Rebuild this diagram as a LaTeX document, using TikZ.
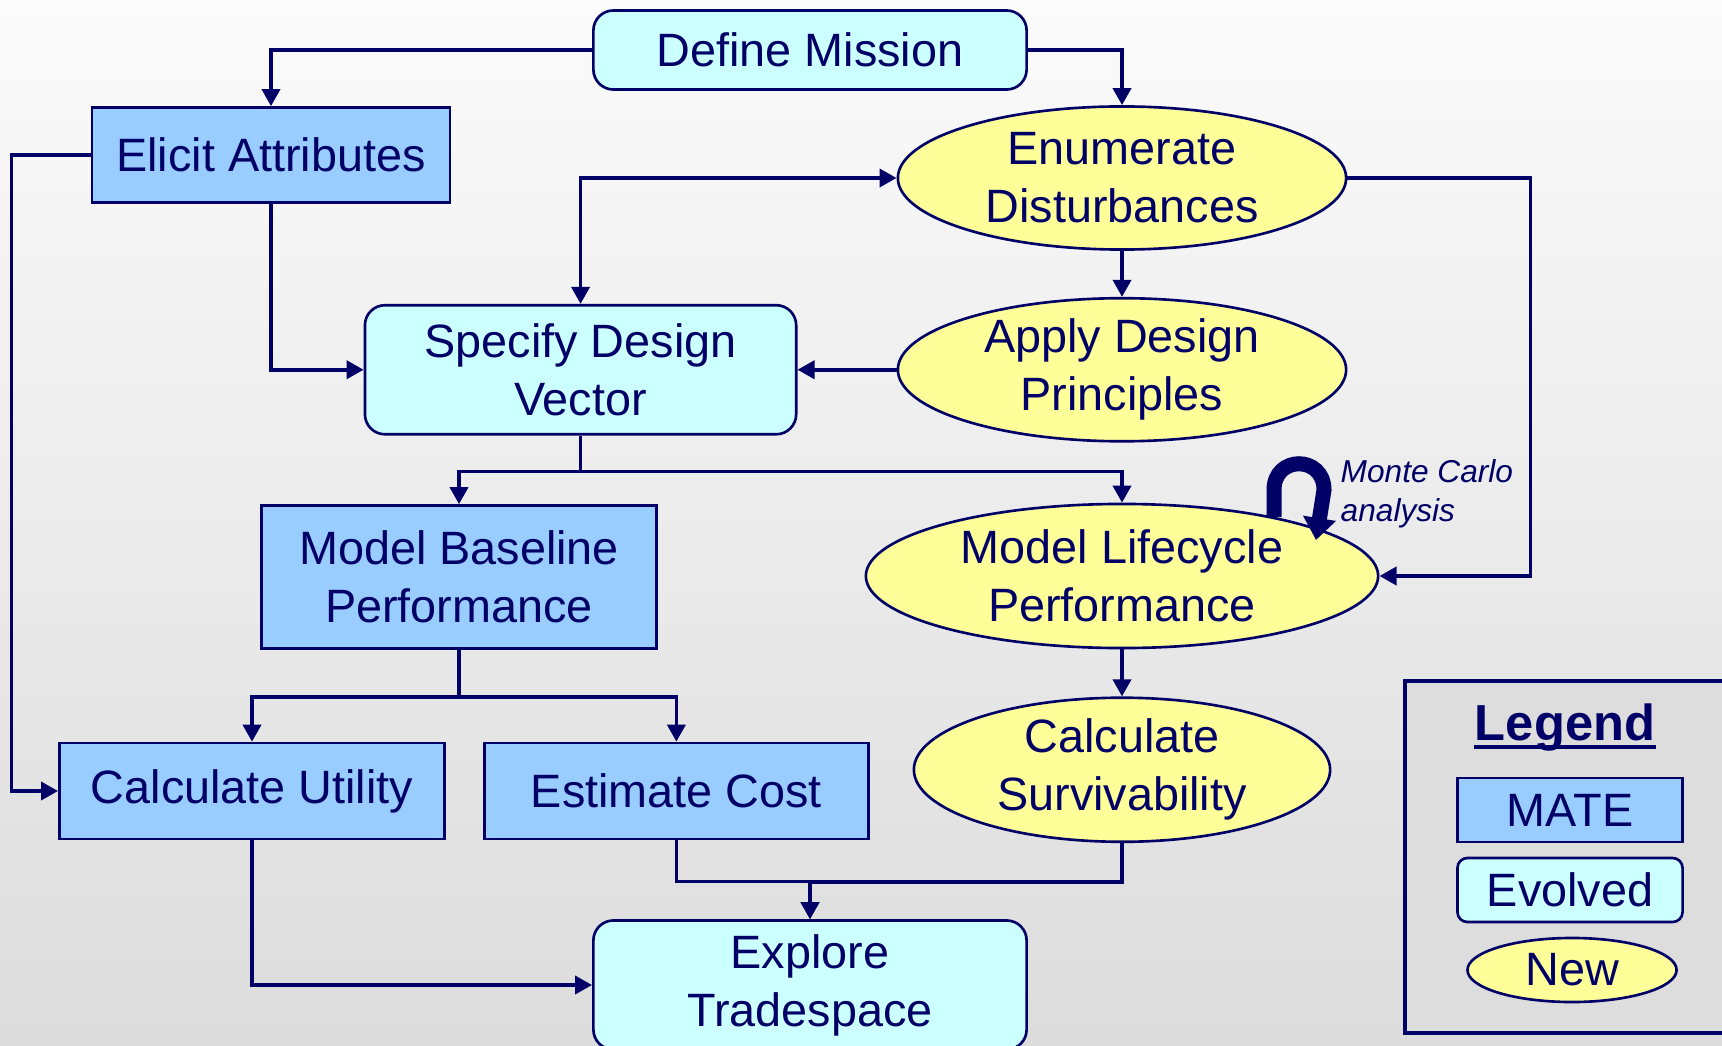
\documentclass[tikz,border=0pt]{standalone}
\usepackage{fontspec}
\setmainfont{Liberation Sans}
\usepackage{tikz}
\usetikzlibrary{positioning, arrows.meta, shapes.geometric}
\usepackage{xcolor}
\definecolor{ink}{RGB}{0, 0, 102}
\definecolor{mateblue}{RGB}{153, 204, 255}
\definecolor{evolvedcyan}{RGB}{204, 255, 255}
\definecolor{newyellow}{RGB}{255, 255, 153}
\definecolor{legendgray}{RGB}{221, 221, 221}
\definecolor{bgtop}{RGB}{251, 251, 251}
\definecolor{bgbottom}{RGB}{220, 220, 220}

\begin{document}
\begin{tikzpicture}[
        x=0.01cm, y=-0.01cm,
        >={Triangle[length=0.17cm, width=0.18cm]},
        font=\fontsize{13.3}{16.5}\selectfont,
        stepnode/.style={draw=ink, line width=0.75pt, text=ink, inner sep=0pt, align=center},
        matebox/.style={stepnode, fill=mateblue},
        evolvedbox/.style={stepnode, fill=evolvedcyan, rounded corners=0.2cm},
        newbox/.style={stepnode, ellipse, inner ysep=-0.2cm, fill=newyellow, minimum width=4.48cm, minimum height=1.43cm},
        link/.style={draw=ink, line width=1.05pt, ->}
    ]
        \useasboundingbox (0,0) rectangle (1722,1046);
        \clip (0,0) rectangle (1722,1046);
        \shade[top color=bgtop, bottom color=bgbottom] (0,0) rectangle (1722,1046);

        % legend
        \draw[ink, line width=1.2pt, fill=legendgray] (1405,681) rectangle (1780,1033);
        \node[text=ink, inner sep=0pt, anchor=base, font=\fontsize{14.4}{17}\selectfont\bfseries] (legtitle) at (1565,740) {Legend};
        \draw[ink, line width=0.04cm] ([yshift=-0.07cm]legtitle.base west) -- ([yshift=-0.07cm]legtitle.base east);
        \node[matebox, minimum width=2.25cm, minimum height=0.64cm] (legmate) at (1570,810) {MATE};
        \node[evolvedbox, rounded corners=0.1cm, minimum width=2.25cm, minimum height=0.64cm] (legevolved) at (1570,890) {Evolved};
        \node[newbox, minimum width=2.09cm, minimum height=0.64cm] (legnew) at (1572,970) {New};

        % steps
        \node[evolvedbox, minimum width=4.33cm, minimum height=0.79cm] (mission) at (810,50) {Define Mission};
        \node[matebox, minimum width=3.58cm, minimum height=0.95cm] (elicit) at (271,155) {Elicit Attributes};
        \node[newbox] (enum) at (1122,178) {Enumerate\\Disturbances};
        \node[newbox, below=0.46cm of enum] (apply) {Apply Design\\Principles};
        \node[evolvedbox, left=0.99cm of apply, minimum width=4.31cm, minimum height=1.29cm] (specify) {Specify Design\\Vector};
        \node[newbox, minimum width=5.12cm, minimum height=1.44cm, below=0.6cm of apply] (lifecycle) {Model Lifecycle\\Performance};
        \node[newbox, minimum width=4.16cm, minimum height=1.44cm, below=0.47cm of lifecycle] (surv) {Calculate\\Survivability};
        \node[matebox, minimum width=3.95cm, minimum height=1.43cm] (baseline) at (459,577) {Model Baseline\\Performance};
        \node[matebox, minimum width=3.85cm, minimum height=0.96cm] (utility) at (252,791) {Calculate Utility};
        \node[matebox, minimum width=3.84cm, minimum height=0.96cm, right=0.37cm of utility] (cost) {Estimate Cost};
        \node[evolvedbox, minimum width=4.33cm, minimum height=1.29cm] (explore) at (810,985) {Explore\\Tradespace};

        % connectors
        \draw[link] (mission.west) -| (elicit.north);
        \draw[link] (mission.east) -| (enum.north);
        \draw[link] (elicit.west) -- ++(-79,0) |- (utility.west);
        \draw[link] (elicit.south) |- (specify.west);
        \draw[link] (enum.south) -- (apply.north);
        \draw[link, <->] (specify.north) |- (enum.west);
        \draw[link] (apply.west) -- (specify.east);
        \draw[link] (enum.east) -- ++(183,0) |- (lifecycle.east);
        \draw[link] (specify.south) -- ++(0,36) -| (baseline.north);
        \draw[link] (specify.south) -- ++(0,36) -| (lifecycle.north);
        \draw[link] (baseline.south) -- ++(0,47) -| (utility.north);
        \draw[link] (baseline.south) -- ++(0,47) -| (cost.north);
        \draw[link] (lifecycle.south) -- (surv.north);
        \draw[link] (cost.south) -- ++(0,41) -| (explore.north);
        \draw[link] (surv.south) -- ++(0,39) -| (explore.north);
        \draw[link] (utility.south) |- (explore.west);

        % monte carlo loop
        \coordinate (mcfoot) at (1274,517);
        \draw[ink, line width=0.15cm, -{Triangle[length=0.22cm, width=0.32cm]}] (mcfoot) -- (1274,490) .. controls (1274,455) and (1324,455) .. (1324,490) -- (1316,540);
        \node[anchor=west, inner sep=0pt, text=ink, align=left, font=\fontsize{9}{11}\selectfont\itshape] (mctext) at (1340,494) {Monte Carlo\\analysis};
    \end{tikzpicture}
\end{document}
